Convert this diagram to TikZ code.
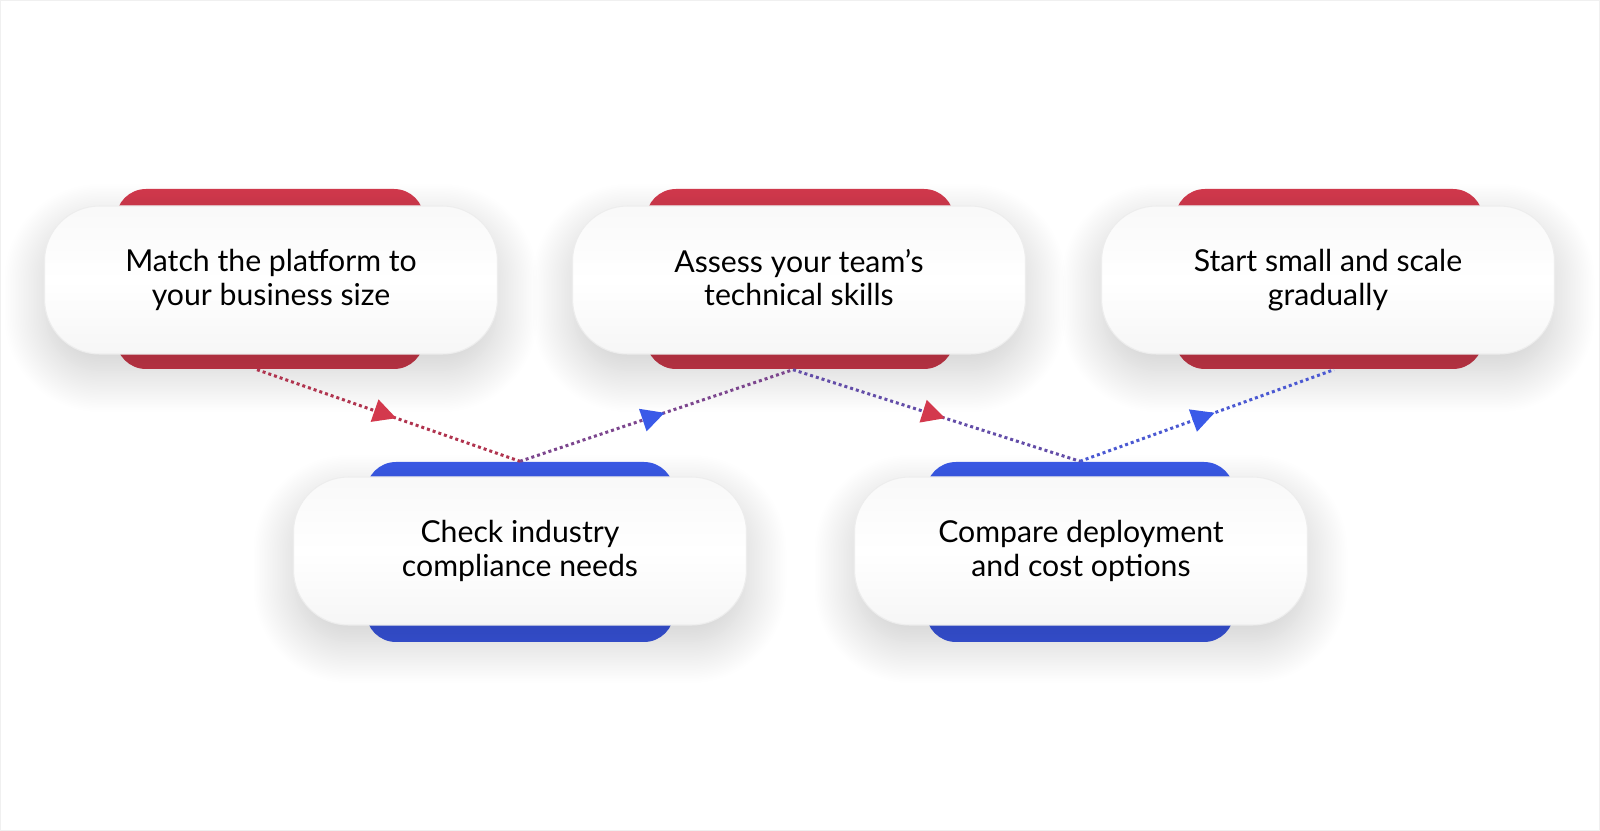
\documentclass[tikz,border=0pt]{standalone}
\usepackage{fontspec}
\setmainfont{Lato}
\usetikzlibrary{arrows.meta,decorations.markings,shadows.blur}
\usepackage{xcolor}
\definecolor{redtop}{HTML}{D3394D}
\definecolor{redbot}{HTML}{C83749}
\definecolor{bluetop}{HTML}{3A5AE8}
\definecolor{bluebot}{HTML}{3854DE}
\definecolor{linka}{HTML}{B0344F}
\definecolor{linkb}{HTML}{7C468E}
\definecolor{linkc}{HTML}{634DA8}
\definecolor{linkd}{HTML}{4B59D2}
\definecolor{framec}{HTML}{F0F0F0}

\tikzset{
  backpill/.style={rounded corners=3mm, minimum width=30.8mm, minimum height=18mm,
    top color=#1top, bottom color=#1bot},
  card/.style={rounded corners=5.5mm, minimum width=45.3mm, minimum height=14.8mm,
    align=center, text=black, font=\fontsize{8.6}{9.6}\selectfont,
    draw=gray!14, line width=0.3pt,
    top color=gray!5, bottom color=gray!7, middle color=white,
    blur shadow={shadow xshift=0mm, shadow yshift=-1.8mm,
      shadow blur radius=4mm, shadow blur steps=25, shadow opacity=20}},
  link/.style={line width=0.3mm, dash pattern=on 0.3mm off 0.3mm},
  midtip/.style={postaction={decorate}, decoration={markings,
    mark=at position 0.53 with {\arrow{Triangle[length=2.3mm, width=2.3mm, color=#1, fill=#1]}}}}
}

\begin{document}
\begin{tikzpicture}[x=0.1mm, y=-0.1mm]
  \useasboundingbox (0,0) rectangle (1600,831);
  \draw[framec, line width=0.2mm] (0,0) rectangle (1600,831);

  % coloured pills behind the cards
  \node[backpill=red] (platback) at (270,279) {};
  \node[backpill=red] (skillback) at (800,279) {};
  \node[backpill=red] (growback) at (1329,279) {};
  \node[backpill=blue] (complyback) at (520,552) {};
  \node[backpill=blue] (costback) at (1080,552) {};

  % cards
  \node[card] (plat) at (271,280) {Match the platform to\\your business size};
  \node[card] (skill) at (799,280) {Assess your team’s\\technical skills\vphantom{y}};
  \node[card] (grow) at (1328,280) {Start small and scale\\gradually};
  \node[card] (comply) at (520,551) {Check industry\\compliance needs};
  \node[card] (cost) at (1081,551) {Compare deployment\\and cost options};

  % dotted links
  \draw[link, linka, midtip=redtop] ([xshift=-1.3mm]platback.south) -- (complyback.north);
  \draw[link, linkb, midtip=bluetop] (complyback.north) -- ([xshift=-0.7mm]skillback.south);
  \draw[link, linkc, midtip=redtop] ([xshift=-0.7mm]skillback.south) -- (costback.north);
  \draw[link, linkd, midtip=bluetop] (costback.north) -- ([xshift=0.5mm]growback.south);
\end{tikzpicture}
\end{document}
